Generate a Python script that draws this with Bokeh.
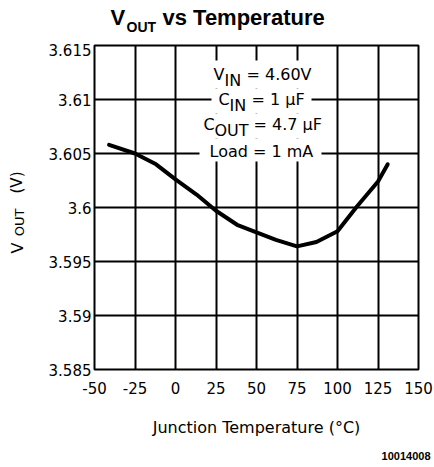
from bokeh.plotting import figure
from bokeh.models import Range1d, FixedTicker, Label
from bokeh.layouts import column, row
from bokeh.embed import file_html
from bokeh.resources import INLINE
import math

# ---- data ----
temp_c = [-41, -25, -12, 0, 13, 25, 38, 50, 62, 75, 87, 100, 112, 125, 131]
vout_v = [3.6058, 3.6050, 3.6040, 3.6026, 3.6012, 3.5997, 3.5984, 3.5977,
          3.5970, 3.5964, 3.5968, 3.5978, 3.6001, 3.6024, 3.6040]

x_ticks = [-50, -25, 0, 25, 50, 75, 100, 125, 150]
x_tick_labels = ["-50", "-25", "0", "25", "50", "75", "100", "125", "150"]
y_ticks = [3.585, 3.59, 3.595, 3.6, 3.605, 3.61, 3.615]
y_tick_labels = ["3.585", "3.59", "3.595", "3.6", "3.605", "3.61", "3.615"]

X0, X1 = -50, 150
Y0, Y1 = 3.585, 3.615

# ---- layout (page pixels) ----
W, H = 434, 467
TOP_H = 43          # title strip
MID_H = 400         # plot strip
YL_W = 40           # y-label strip
FL, FT, FW, FH = 94, 45, 324, 324
BORDER_TOP = FT - TOP_H
BORDER_BOT = TOP_H + MID_H - (FT + FH)

THIN = "DejaVu Sans"
BOLD = "Liberation Sans"
BASE_FIX = 0.28     # empirical baseline correction (fraction of font size)


def blank(width, height, x0, x1, ytop, ybot, **kw):
    f = figure(width=width, height=height, x_range=Range1d(x0, x1),
               y_range=Range1d(ybot, ytop), x_axis_type=None, y_axis_type=None,
               output_backend="svg", toolbar_location=None, **kw)
    f.outline_line_color = None
    f.background_fill_color = "white"
    f.border_fill_color = "white"
    f.xgrid.visible = False
    f.ygrid.visible = False
    return f


def lab(f, text, x, y, size, font=THIN, style="normal", angle=0.0,
        align="left", baseline="alphabetic"):
    f.add_layout(Label(x=x, y=y, text=text, text_font=font,
                       text_font_size=f"{size}px", text_font_style=style,
                       text_color="black", angle=angle, angle_units="rad",
                       text_align=align, text_baseline=baseline))


# ---- title strip (data units = page pixels) ----
title_fig = blank(W, TOP_H, 0, W, 0, TOP_H, min_border=0)
for t, x, y, s in [("V", 110, 23, 22), ("OUT", 126, 30, 14), ("vs Temperature", 162, 23, 22)]:
    lab(title_fig, t, x, y - BASE_FIX * s, s, BOLD, "bold")

# ---- y label strip (frame aligned with the plot frame; data units = page pixels) ----
yl_fig = figure(width=YL_W, frame_height=FH, x_range=Range1d(0, YL_W),
                y_range=Range1d(FT + FH, FT), x_axis_type=None, y_axis_type=None,
                output_backend="svg", toolbar_location=None,
                min_border_left=0, min_border_right=0,
                min_border_top=BORDER_TOP, min_border_bottom=BORDER_BOT)
yl_fig.outline_line_color = None
yl_fig.background_fill_color = "white"
yl_fig.border_fill_color = "white"
yl_fig.xgrid.visible = False
yl_fig.ygrid.visible = False
for t, x, y, s in [("V", 16.5, 247.5, 16), ("OUT", 19, 222, 13), ("(V)", 16.5, 182, 15)]:
    lab(yl_fig, t, x, y, s, angle=math.pi / 2, align="center", baseline="middle")

# ---- code strip ----
code_fig = blank(W, H - TOP_H - MID_H, 0, W, TOP_H + MID_H, H, min_border=0)
lab(code_fig, "10014008", 430, 459 - BASE_FIX * 11, 11, BOLD, "bold", align="right")

# ---- main plot ----
def px_x(px):
    return X0 + (px - FL) / FW * (X1 - X0)


def px_y(py):
    return Y1 - (py - FT) / FH * (Y1 - Y0)


p = figure(frame_width=FW, frame_height=FH,
           x_range=Range1d(X0, X1), y_range=Range1d(Y0, Y1),
           output_backend="svg", toolbar_location=None,
           min_border_left=FL - YL_W, min_border_right=W - (FL + FW),
           min_border_top=BORDER_TOP, min_border_bottom=BORDER_BOT)
p.background_fill_color = "white"
p.border_fill_color = "white"
p.outline_line_color = "black"
p.outline_line_width = 2

p.xaxis.ticker = FixedTicker(ticks=x_ticks)
p.yaxis.ticker = FixedTicker(ticks=y_ticks)
p.xaxis.major_label_overrides = {t: s for t, s in zip(x_ticks, x_tick_labels)}
p.yaxis.major_label_overrides = {t: s for t, s in zip(y_ticks, y_tick_labels)}
for ax in (p.xaxis, p.yaxis):
    ax.axis_line_color = None
    ax.major_tick_line_color = None
    ax.minor_tick_line_color = None
    ax.major_tick_out = 0
    ax.major_tick_in = 0
    ax.major_label_text_font = THIN
    ax.major_label_text_font_size = "15px"
    ax.major_label_text_color = "black"
p.xaxis.major_label_standoff = 12
p.yaxis.major_label_standoff = 3

p.xaxis.axis_label = "Junction Temperature (°C)"
p.xaxis.axis_label_text_font = THIN
p.xaxis.axis_label_text_font_size = "16px"
p.xaxis.axis_label_text_font_style = "normal"
p.xaxis.axis_label_text_color = "black"
p.xaxis.axis_label_standoff = 21

p.xgrid.ticker = FixedTicker(ticks=x_ticks)
p.ygrid.ticker = FixedTicker(ticks=y_ticks)
for g in (p.xgrid, p.ygrid):
    g.grid_line_color = "black"
    g.grid_line_width = 2
    g.grid_line_alpha = 1

# white masks behind the condition text lines
mask_l = [207, 211, 198, 199]
mask_r = [316, 311, 324, 321]
mask_t = [60, 88, 113, 138]
mask_b = [88, 113, 138, 161]
p.quad(left=[px_x(v) for v in mask_l], right=[px_x(v) for v in mask_r],
       top=[px_y(v) for v in mask_t], bottom=[px_y(v) for v in mask_b],
       fill_color="white", line_color=None)

p.line(temp_c, vout_v, line_color="black", line_width=4, line_join="round", line_cap="round")

cond = [("V", 213, 78), ("IN", 224, 84), ("= 4.60V", 246, 78),
        ("C", 218, 103), ("IN", 229, 109), ("= 1 \u03bcF", 251, 103),
        ("C", 203, 128), ("OUT", 214, 134), ("= 4.7 \u03bcF", 253, 128),
        ("Load = 1 mA", 209, 155)]
for t, x, y in cond:
    lab(p, t, px_x(x), px_y(y - BASE_FIX * 16), 16)

layout = column(title_fig, row(yl_fig, p, spacing=0), code_fig, spacing=0)

open("out.html", "w").write(file_html(layout, INLINE))
